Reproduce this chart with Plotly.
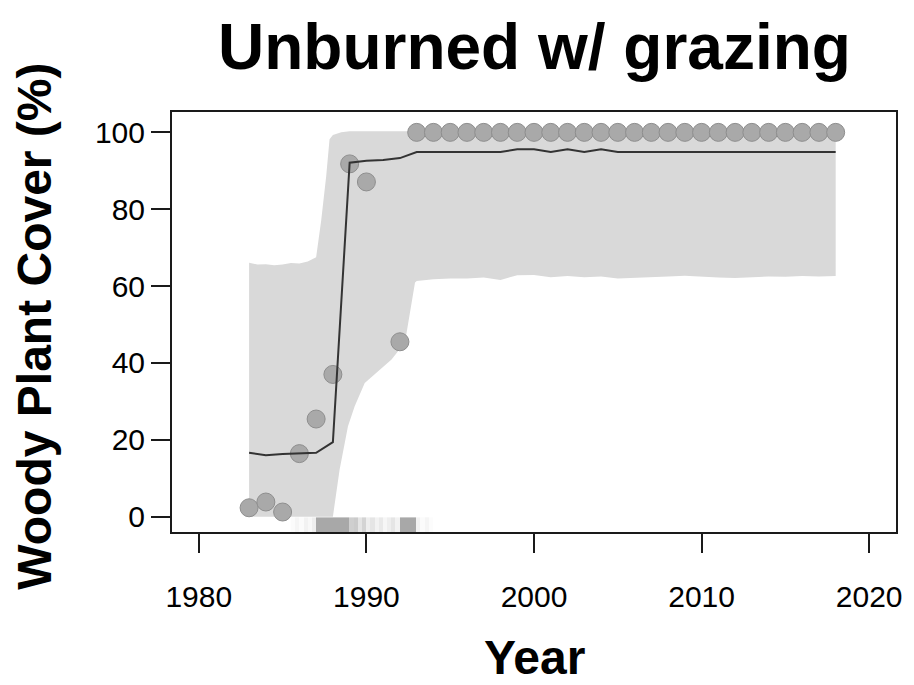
import plotly.graph_objects as go

# Observed woody plant cover (%)
obs_year = [1983, 1984, 1985, 1986, 1987, 1988, 1989, 1990, 1992,
            1993, 1994, 1995, 1996, 1997, 1998, 1999, 2000, 2001, 2002,
            2003, 2004, 2005, 2006, 2007, 2008, 2009, 2010, 2011, 2012,
            2013, 2014, 2015, 2016, 2017, 2018]
obs_cover = [2.3, 3.8, 1.2, 16.4, 25.4, 37.0, 91.8, 87.1, 45.5,
             100, 100, 100, 100, 100, 100, 100, 100, 100, 100,
             100, 100, 100, 100, 100, 100, 100, 100, 100, 100,
             100, 100, 100, 100, 100, 100]

# Fitted trajectory
fit_year = [1983, 1984, 1985, 1986, 1987, 1988, 1989, 1990, 1991, 1992,
            1993, 1994, 1995, 1996, 1997, 1998, 1999, 2000, 2001, 2002,
            2003, 2004, 2005, 2006, 2007, 2008, 2009, 2010, 2011, 2012,
            2013, 2014, 2015, 2016, 2017, 2018]
fit_cover = [16.6, 16.0, 16.3, 16.4, 16.6, 19.4, 92.1, 92.6, 92.8, 93.3,
             94.9, 94.9, 94.9, 94.9, 94.9, 94.9, 95.6, 95.6, 94.9, 95.6,
             94.9, 95.6, 94.9, 94.9, 94.9, 94.9, 94.9, 94.9, 94.9, 94.9,
             94.9, 94.9, 94.9, 94.9, 94.9, 94.9]

# Credible band: upper edge
band_hi_year = [1983, 1983.5, 1984, 1984.5, 1985, 1985.5, 1986, 1986.5, 1987,
                1987.3, 1987.6, 1987.8, 1988, 1988.5, 1989, 2018]
band_hi = [66.1, 65.6, 65.7, 65.4, 65.6, 66.0, 65.9, 66.4, 67.5,
           77.0, 88.6, 98.2, 99.3, 100.0, 100.3, 100.3]

# Credible band: lower edge
band_lo_year = [1983, 1988.0, 1988.4, 1988.9, 1989.3, 1989.9, 1990.5, 1991.5,
                1992.3, 1992.6, 1992.9, 1993, 1994, 1995, 1996, 1997, 1998,
                1999, 2000, 2001, 2002, 2003, 2004, 2005, 2006, 2007, 2008,
                2009, 2010, 2011, 2012, 2013, 2014, 2015, 2016, 2017, 2018]
band_lo = [0.0, 0.0, 12.2, 23.5, 28.7, 34.8, 37.0, 40.9,
           45.3, 53.0, 60.9, 61.3, 61.8, 62.0, 62.0, 62.2, 61.6,
           62.8, 62.9, 62.3, 62.6, 62.3, 62.5, 62.0, 62.2, 62.3, 62.5,
           62.7, 62.5, 62.2, 62.1, 62.3, 62.5, 62.4, 62.6, 62.5, 62.6]

# Change-point timing density strip (cell edges in years, relative weight)
rug_edges = [1985.5, 1985.75, 1986.0, 1986.25, 1986.5, 1986.75, 1987.0,
             1987.25, 1987.5, 1987.75, 1988.0, 1988.25, 1988.5, 1988.75,
             1989.0, 1989.25, 1989.5, 1989.75, 1990.0, 1990.25, 1990.5,
             1990.75, 1991.0, 1991.25, 1991.5, 1991.75, 1992.0, 1992.25,
             1992.5, 1992.75, 1993.0, 1993.25, 1993.5, 1993.75, 1994.0]
rug_weight = [0.05, 0.12, 0.05, 0.15, 0.08, 0.2,
              1.0, 1.0, 1.0, 1.0, 1.0, 1.0, 1.0, 1.0,
              0.55, 0.6, 0.3, 0.5, 0.2, 0.3, 0.15, 0.25,
              0.1, 0.2, 0.3, 0.15,
              1.0, 1.0, 1.0, 1.0,
              0.15, 0.05, 0.12, 0.04]

x_ticks = [1980, 1990, 2000, 2010, 2020]
y_ticks = [0, 20, 40, 60, 80, 100]

FONT = "Liberation Sans, Arial, sans-serif"

fig = go.Figure()

# shaded band as a closed polygon
fig.add_trace(go.Scatter(
    x=band_hi_year + band_lo_year[::-1],
    y=band_hi + band_lo[::-1],
    fill="toself", fillcolor="#d9d9d9",
    line=dict(width=0), mode="lines", hoverinfo="skip", showlegend=False))

fig.add_trace(go.Heatmap(
    x=rug_edges, y=[-4.0, -0.2], z=[rug_weight],
    zmin=0, zmax=1, colorscale=[[0, "#ffffff"], [1, "#a8a8a8"]],
    showscale=False, hoverinfo="skip"))

fig.add_trace(go.Scatter(
    x=obs_year, y=obs_cover, mode="markers",
    marker=dict(size=18, color="#a9a9a9", line=dict(color="#8e8e8e", width=1)),
    showlegend=False))

fig.add_trace(go.Scatter(
    x=fit_year, y=fit_cover, mode="lines",
    line=dict(color="#333333", width=2), showlegend=False))

axis_common = dict(
    showline=True, mirror=True, linecolor="#1a1a1a", linewidth=2,
    ticks="outside", ticklen=19, tickwidth=2, tickcolor="#1a1a1a",
    tickfont=dict(family=FONT, size=30, color="#000000"),
    showgrid=False, zeroline=False,
)

fig.update_layout(
    width=914, height=685, autosize=False,
    margin=dict(l=172, r=12, t=112, b=153),
    plot_bgcolor="#ffffff", paper_bgcolor="#ffffff",
    xaxis=dict(range=[1978.4, 2021.6], tickvals=x_ticks,
               ticklabelstandoff=18, **axis_common),
    yaxis=dict(range=[-4.0, 105.3], tickvals=y_ticks,
               ticksuffix="\u2007\u200a", **axis_common),
    annotations=[
        dict(text="Unburned w/ grazing", xref="paper", yref="paper",
             x=0.5, y=1.155, xanchor="center", yanchor="middle", showarrow=False,
             font=dict(family=FONT, size=64, color="#000000", weight="bold")),
        dict(text="Year", xref="paper", yref="paper",
             x=0.5, y=-0.298, xanchor="center", yanchor="middle", showarrow=False,
             font=dict(family=FONT, size=48, color="#000000", weight="bold")),
        dict(text="Woody Plant Cover (%)", xref="paper", yref="paper",
             x=-0.19, y=0.49, xanchor="center", yanchor="middle", showarrow=False,
             textangle=-90,
             font=dict(family=FONT, size=48, color="#000000", weight="bold")),
    ],
)

fig.write_html("out.html")
